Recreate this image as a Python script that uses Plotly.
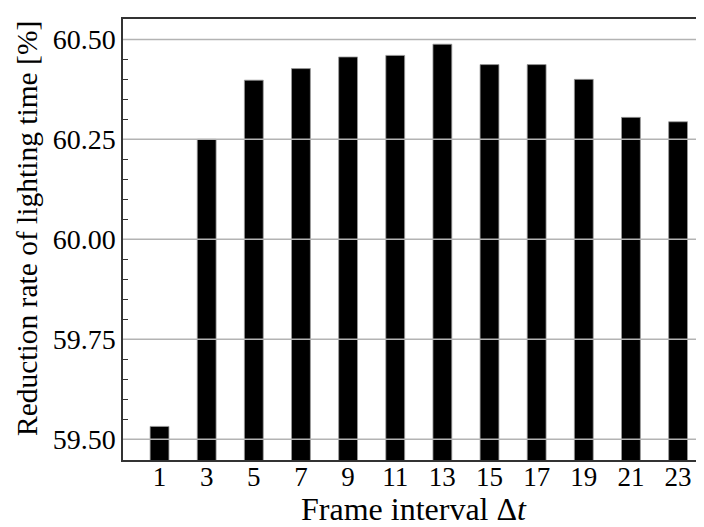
import plotly.graph_objects as go

frame_interval = [1, 3, 5, 7, 9, 11, 13, 15, 17, 19, 21, 23]
reduction_rate = [59.532, 60.250, 60.398, 60.427, 60.456, 60.460,
                  60.488, 60.437, 60.437, 60.400, 60.305, 60.294]
y_ticks = [59.50, 59.75, 60.00, 60.25, 60.50]

FONT = "Liberation Serif"

fig = go.Figure()
fig.add_trace(go.Bar(
    x=frame_interval,
    y=reduction_rate,
    marker=dict(color="black", line=dict(color="#9a9a9a", width=0.8)),
    showlegend=False,
))

# gridlines drawn above bars, as in the reference
for v in y_ticks:
    fig.add_shape(type="line", xref="paper", x0=0, x1=1, yref="y", y0=v, y1=v,
                  line=dict(color="#b3b3b3", width=1.5), layer="above")

# y-axis title as a rotated annotation (slightly above plot centre, like reference)
fig.add_annotation(
    text="Reduction rate of lighting time [%]",
    xref="paper", yref="paper", x=-0.165, y=0.524,
    xanchor="center", yanchor="middle", textangle=-90, showarrow=False,
    font=dict(family=FONT, size=29.5, color="black"),
)

fig.update_layout(
    width=696, height=519,
    margin=dict(l=115, r=0, t=11, b=67),
    paper_bgcolor="white", plot_bgcolor="white",
    bargap=0.6,
    font=dict(family=FONT, size=28, color="black"),
    xaxis=dict(
        range=[-0.55, 24.1],
        tickmode="array", tickvals=frame_interval,
        ticktext=[str(v) for v in frame_interval],
        ticks="", showgrid=False, zeroline=False,
        showline=True, linecolor="#333333", linewidth=1.5, mirror=True,
        tickfont=dict(family=FONT, size=27),
        ticklabelstandoff=-8,
        title=dict(text="Frame interval Δ<i>t</i>", font=dict(family=FONT, size=32), standoff=4),
    ),
    yaxis=dict(
        range=[59.448, 60.551],
        tickmode="array", tickvals=y_ticks,
        ticktext=[f"{v:.2f}" for v in y_ticks],
        ticks="inside", ticklen=7, tickwidth=1, tickcolor="#333333",
        minor=dict(dtick=0.05, tick0=59.5, ticks="inside", ticklen=5, tickcolor="#333333", showgrid=False),
        showgrid=False, zeroline=False,
        showline=True, linecolor="#333333", linewidth=1.5, mirror=False,
        tickfont=dict(family=FONT, size=28),
    ),
)

fig.write_html("out.html")
